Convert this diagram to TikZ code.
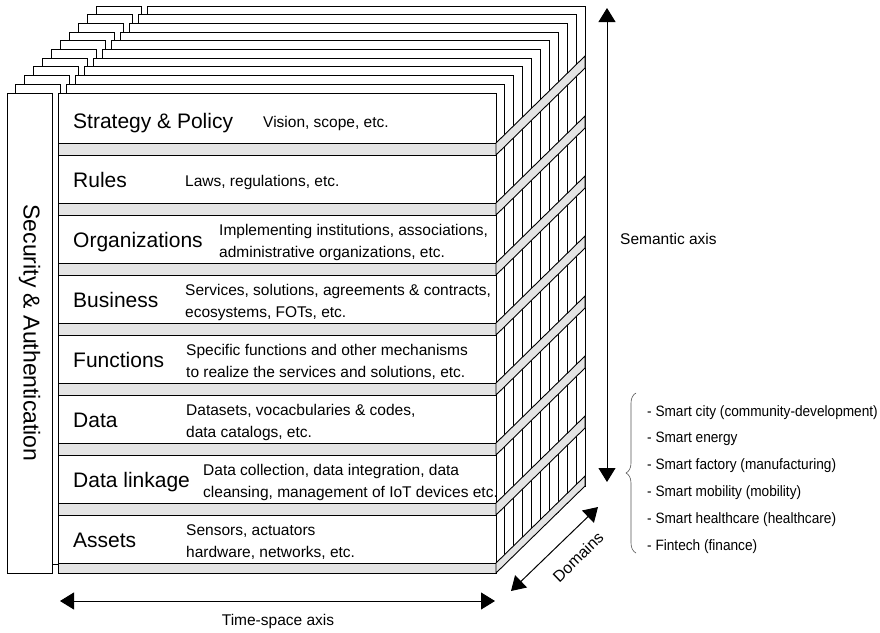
\documentclass[tikz,border=0pt]{standalone}
\usepackage{fontspec}
\setmainfont{Liberation Sans}
\usetikzlibrary{arrows.meta,decorations.pathreplacing}
\definecolor{bandgray}{HTML}{E4E4E4}
\definecolor{bracegray}{HTML}{555555}
\begin{document}
\begin{tikzpicture}[x=1pt,y=-1pt,
  frame/.style={draw=black, fill=white, line width=0.9pt},
  face/.style={draw=black, fill=white, line width=0.9pt, anchor=north west,
    inner sep=0pt, outer sep=0pt},
  sepband/.style={draw=black, fill=bandgray, line width=0.9pt, minimum width=438pt,
    minimum height=12pt, anchor=north west, inner sep=0pt, outer sep=0pt},
  side/.style={draw=black, fill=bandgray, line width=0.9pt, line join=miter},
  lab/.style={anchor=base west, inner sep=0pt, font=\fontsize{21}{25}\selectfont},
  desc/.style={anchor=base west, inner sep=0pt, align=left,
    font=\fontsize{15.5}{22}\selectfont},
  axislabel/.style={inner sep=0pt, font=\fontsize{15.5}{18}\selectfont},
  tip/.tip={Triangle[width=17pt,length=14pt]},
  axis/.style={tip-tip, line width=1pt},
]
\useasboundingbox (0,0) rectangle (880,632);

% stacked domain layers behind the front face
\foreach \k in {10,...,1} {
  \draw[frame] ({7+\k*8.9},{93-\k*8.7}) rectangle ({52+\k*8.9},{573-\k*8.7});
  \draw[frame] ({58+\k*8.9},{93-\k*8.7}) rectangle ({496+\k*8.9},{573-\k*8.7});
}

% security column
\node[face, minimum width=45pt, minimum height=480pt] (sec) at (7,93) {};
\node[rotate=-90, inner sep=0pt, font=\fontsize{23}{27}\selectfont] (sectext) at (sec.center)
  {Security \& Authentication};

% front face with the grey separators between the eight layers
\node[face, minimum width=438pt, minimum height=480pt] (front) at (58,93) {};
\foreach \i in {1,...,7} {
  \node[sepband] (g\i) at (58,{143+60*(\i-1)}) {};
}
\node[sepband, minimum height=10pt] (g8) at (58,563) {};

% side faces of the separators
\foreach \i/\h in {1/12,2/12,3/12,4/12,5/12,6/12,7/12,8/10} {
  \draw[side] (g\i.north east) -- ++(89,-87) -- ++(0,\h) -- (g\i.south east) -- cycle;
}

% layer names
\node[lab] (l1) at (73,128) {Strategy \& Policy};
\node[lab] (l2) at (73,187) {Rules};
\node[lab] (l3) at (73,247) {Organizations};
\node[lab] (l4) at (73,307) {Business};
\node[lab] (l5) at (73,367) {Functions};
\node[lab] (l6) at (73,427) {Data};
\node[lab] (l7) at (73,487) {Data linkage};
\node[lab] (l8) at (73,547) {Assets};

% layer descriptions (anchored on the baseline of the last line)
\node[desc] (d1) at (263,127) {Vision, scope, etc.};
\node[desc] (d2) at (185,186) {Laws, regulations, etc.};
\node[desc] (d3) at (219,257) {Implementing institutions, associations,\\administrative organizations, etc.};
\node[desc] (d4) at (185,317) {Services, solutions, agreements \& contracts,\\ecosystems, FOTs, etc.};
\node[desc] (d5) at (186,377) {Specific functions and other mechanisms\\to realize the services and solutions, etc.};
\node[desc] (d6) at (186,437) {Datasets, vocacbularies \& codes,\\data catalogs, etc.};
\node[desc] (d7) at (203,497) {Data collection, data integration, data\\cleansing, management of IoT devices etc.};
\node[desc] (d8) at (186,557) {Sensors, actuators\\hardware, networks, etc.};

% axes
\coordinate (semtop) at (607,8);
\coordinate (sembot) at (607,482);
\draw[axis] (semtop) -- (sembot);
\node[axislabel, anchor=base west] (semlab) at (620,244) {Semantic axis};

\coordinate (tsleft) at (60,601);
\coordinate (tsright) at (495,601);
\draw[axis] (tsleft) -- (tsright);
\node[axislabel, anchor=base] (tslab) at (278,625) {Time-space axis};

\coordinate (domlow) at (511,591);
\coordinate (domhigh) at (598,507);
\draw[axis] (domlow) -- (domhigh);
\node[axislabel, rotate=44, font=\fontsize{16}{18}\selectfont] (domlab) at (578,557) {Domains};

% domain list
\coordinate (brbot) at (636,553);
\coordinate (brtop) at (636,393);
\draw[bracegray, line width=0.6pt, decorate, decoration={brace, amplitude=10pt}] (brbot) -- (brtop);
\node[anchor=base west, inner sep=0pt, align=left, xscale=0.91,
  font=\fontsize{15}{26.8}\selectfont] (domains) at (647,550)
  {- Smart city (community-development)\\- Smart energy\\- Smart factory (manufacturing)\\- Smart mobility (mobility)\\- Smart healthcare (healthcare)\\- Fintech (finance)};
\end{tikzpicture}
\end{document}
